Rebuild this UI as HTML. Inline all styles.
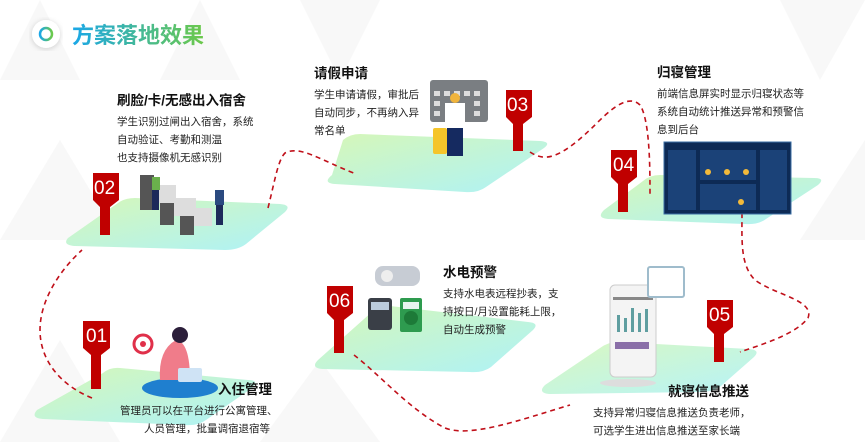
<!DOCTYPE html>
<html><head><meta charset="utf-8"><style>
body{margin:0;width:865px;height:442px;overflow:hidden;background:#fff;font-family:"Liberation Sans","Noto Sans CJK SC",sans-serif;position:relative}
.t{position:absolute;color:#222;font-size:10.5px;line-height:18px;white-space:nowrap}
.t b{display:block;font-size:13.5px;color:#111;margin-bottom:3px}
</style></head><body>
<svg width="865" height="442" style="position:absolute;left:0;top:0">
<defs>
<linearGradient id="g" x1="0" y1="0" x2="1" y2="1"><stop offset="0" stop-color="#d6f7b8"/><stop offset="1" stop-color="#aef2f7"/></linearGradient>
<linearGradient id="tg" x1="0" x2="1"><stop offset="0" stop-color="#1aa7e8"/><stop offset="1" stop-color="#6cc94a"/></linearGradient>
<filter id="sh"><feDropShadow dx="0" dy="1" stdDeviation="3" flood-color="#000" flood-opacity=".18"/></filter>
</defs>
<g fill="#f8f8f8">
<polygon points="0,80 40,0 80,80"/><polygon points="160,80 200,0 240,80"/>
<polygon points="0,240 60,140 120,240"/><polygon points="0,442 60,340 120,442"/>
<polygon points="260,442 320,360 380,442"/><polygon points="300,0 340,80 380,0"/>
<polygon points="780,0 820,80 865,0"/><polygon points="800,240 865,140 865,240"/>
</g>
<!-- platforms -->
<path d="M68,238 Q62,245 75,246 L225,250 Q238,250 246,244 L285,212 Q292,205 280,204 L135,198 Q125,198 118,203 Z" fill="url(#g)"/>
<path d="M332,175 Q322,183 335,184 L465,192 Q478,193 486,187 L544,148 Q552,142 540,141 L360,134 Q350,134 343,140 Z" fill="url(#g)"/>
<path d="M604,210 Q596,218 608,219 L745,224 Q758,225 766,219 L818,185 Q826,178 814,178 L660,175 Q650,175 643,181 Z" fill="url(#g)"/>
<path d="M37,410 Q30,418 43,419 L185,425 Q198,426 206,420 L252,388 Q260,380 248,380 L120,368 Q110,367 103,373 Z" fill="url(#g)"/>
<path d="M318,360 Q310,368 323,369 L470,372 Q483,373 491,367 L533,330 Q540,323 528,322 L390,306 Q380,305 373,311 Z" fill="url(#g)"/>
<path d="M545,385 Q537,393 550,394 L700,392 Q713,392 721,386 L754,357 Q761,350 749,349 L618,342 Q608,342 600,348 Z" fill="url(#g)" opacity=".9"/>
<!-- dashed path -->
<g fill="none" stroke="#c0101a" stroke-width="1.6" stroke-dasharray="5,4">
<path d="M92,398 C60,385 40,360 40,330 C40,300 60,270 82,250"/>
<path d="M268,208 C275,180 278,160 285,153 C300,145 320,160 356,174"/>
<path d="M530,152 C545,162 560,160 598,122 C615,105 630,95 640,105 C650,120 650,170 650,195"/>
<path d="M742,213 C742,240 740,265 755,280 C775,295 815,300 808,318 C795,335 760,345 740,352"/>
<path d="M354,355 C380,375 410,410 445,428 C470,438 520,420 570,405"/>
</g>
<!-- markers -->
<g fill="#c00000">
<path d="M93,173 h26 v27 l-9,7 v28 h-10 v-28 l-7,-7z"/>
<path d="M506,90 h26 v27 l-9,7 v27 h-10 v-27 l-7,-7z"/>
<path d="M611,150 h26 v27 l-9,7 v28 h-10 v-28 l-7,-7z"/>
<path d="M707,300 h26 v27 l-9,7 v28 h-10 v-28 l-7,-7z"/>
<path d="M327,286 h26 v27 l-9,7 v33 h-10 v-33 l-7,-7z"/>
<path d="M83,321 h27 v27 l-9,7 v34 h-10 v-34 l-8,-7z"/>
</g>
<g fill="#fff" font-family="Liberation Sans,sans-serif" font-size="19">
<text x="94" y="194">02</text><text x="507" y="111">03</text><text x="613" y="171">04</text>
<text x="709" y="321">05</text><text x="329" y="307">06</text><text x="86" y="342">01</text>
</g>
<!-- title icon -->
<circle cx="46" cy="34" r="14" fill="#fff" filter="url(#sh)"/>
<circle cx="46" cy="34" r="6" fill="none" stroke="url(#tg)" stroke-width="2.5"/>
<text x="72" y="43" font-size="22" font-weight="bold" fill="url(#tg)" font-family="Liberation Sans,Noto Sans CJK SC,sans-serif">方案落地效果</text>
<!-- gates -->
<g fill="#555"><rect x="140" y="175" width="14" height="35"/><rect x="160" y="190" width="14" height="35"/><rect x="180" y="200" width="14" height="35"/></g>
<g fill="#ddd"><rect x="154" y="185" width="22" height="18"/><rect x="174" y="198" width="22" height="18"/><rect x="194" y="208" width="18" height="18"/></g>
<rect x="152" y="177" width="8" height="13" fill="#6ab04c"/><rect x="152" y="190" width="7" height="20" fill="#1d2a5a"/>
<rect x="215" y="190" width="9" height="15" fill="#2b4a80"/><rect x="216" y="205" width="7" height="20" fill="#1d2a5a"/>
<!-- calendar & man -->
<rect x="430" y="80" width="58" height="42" rx="3" fill="#7a7e82"/>
<g fill="#ddd"><rect x="434" y="91" width="6" height="5"/><rect x="444" y="91" width="6" height="5"/><rect x="454" y="91" width="6" height="5"/><rect x="464" y="91" width="6" height="5"/><rect x="474" y="91" width="6" height="5"/><rect x="434" y="101" width="6" height="5"/><rect x="474" y="101" width="6" height="5"/><rect x="434" y="111" width="6" height="5"/><rect x="474" y="111" width="6" height="5"/></g>
<rect x="445" y="103" width="20" height="26" fill="#fff"/><circle cx="455" cy="98" r="5" fill="#f0b43c"/>
<rect x="447" y="128" width="16" height="28" fill="#152a60"/><rect x="433" y="128" width="14" height="26" rx="2" fill="#f5c52a"/>
<!-- dashboard -->
<rect x="664" y="142" width="127" height="72" fill="#0d2a55" stroke="#3a6ea5"/>
<g fill="#1b4278"><rect x="668" y="150" width="28" height="60"/><rect x="700" y="150" width="56" height="30"/><rect x="760" y="150" width="27" height="60"/><rect x="700" y="184" width="56" height="26"/></g>
<g fill="#f2b93a"><circle cx="708" cy="172" r="3"/><circle cx="727" cy="172" r="3"/><circle cx="746" cy="172" r="3"/><circle cx="741" cy="202" r="3"/></g>
<!-- phone -->
<rect x="610" y="285" width="46" height="92" rx="5" fill="#f4f4f4" stroke="#ccc"/>
<rect x="613" y="297" width="40" height="3" fill="#888"/>
<g fill="#5f9ea0"><rect x="617" y="315" width="3" height="17"/><rect x="624" y="318" width="3" height="14"/><rect x="631" y="308" width="3" height="24"/><rect x="638" y="313" width="3" height="19"/><rect x="645" y="309" width="3" height="23"/></g>
<rect x="615" y="342" width="34" height="7" fill="#8a6fa8"/>
<rect x="648" y="267" width="36" height="30" rx="2" fill="#fff" stroke="#9fbccc" stroke-width="2"/>
<ellipse cx="628" cy="383" rx="28" ry="4" fill="#ddd"/>
<!-- meters -->
<rect x="375" y="266" width="45" height="20" rx="8" fill="#c7ccd4"/><circle cx="387" cy="276" r="6" fill="#eee"/>
<rect x="368" y="298" width="24" height="32" rx="3" fill="#3a3f47"/><rect x="371" y="302" width="18" height="8" fill="#bcd"/>
<rect x="400" y="298" width="22" height="34" rx="2" fill="#2e9b4f"/><circle cx="411" cy="318" r="7" fill="#1d7a38"/><rect x="403" y="302" width="16" height="7" fill="#e8f4f0"/>
<!-- woman -->
<circle cx="143" cy="344" r="9" fill="#fff" stroke="#e0304a" stroke-width="3"/><circle cx="143" cy="344" r="3" fill="#e0304a"/>
<ellipse cx="180" cy="388" rx="38" ry="10" fill="#1f7fcf"/>
<path d="M160,380 Q158,350 176,340 Q190,342 190,380 Z" fill="#f07c8a"/><circle cx="180" cy="335" r="8" fill="#2b1e3a"/>
<rect x="178" y="368" width="24" height="14" rx="2" fill="#cfe3f5"/>
</svg>
<div class="t" style="left:117px;top:92px"><b>刷脸/卡/无感出入宿舍</b>学生识别过闸出入宿舍，系统<br>自动验证、考勤和测温<br>也支持摄像机无感识别</div>
<div class="t" style="left:314px;top:65px"><b>请假申请</b>学生申请请假，审批后<br>自动同步，不再纳入异<br>常名单</div>
<div class="t" style="left:657px;top:64px"><b>归寝管理</b>前端信息屏实时显示归寝状态等<br>系统自动统计推送异常和预警信<br>息到后台</div>
<div class="t" style="left:443px;top:264px"><b>水电预警</b>支持水电表远程抄表，支<br>持按日/月设置能耗上限，<br>自动生成预警</div>
<div class="t" style="left:120px;top:381px;text-align:right;width:150px"><b style="margin-left:auto;width:52px;text-align:left">入住管理</b>管理员可以在平台进行公寓管理、<br>人员管理，批量调宿退宿等</div>
<div class="t" style="left:593px;top:383px"><b style="padding-left:75px">就寝信息推送</b>支持异常归寝信息推送负责老师，<br>可选学生进出信息推送至家长端</div>
</body></html>
